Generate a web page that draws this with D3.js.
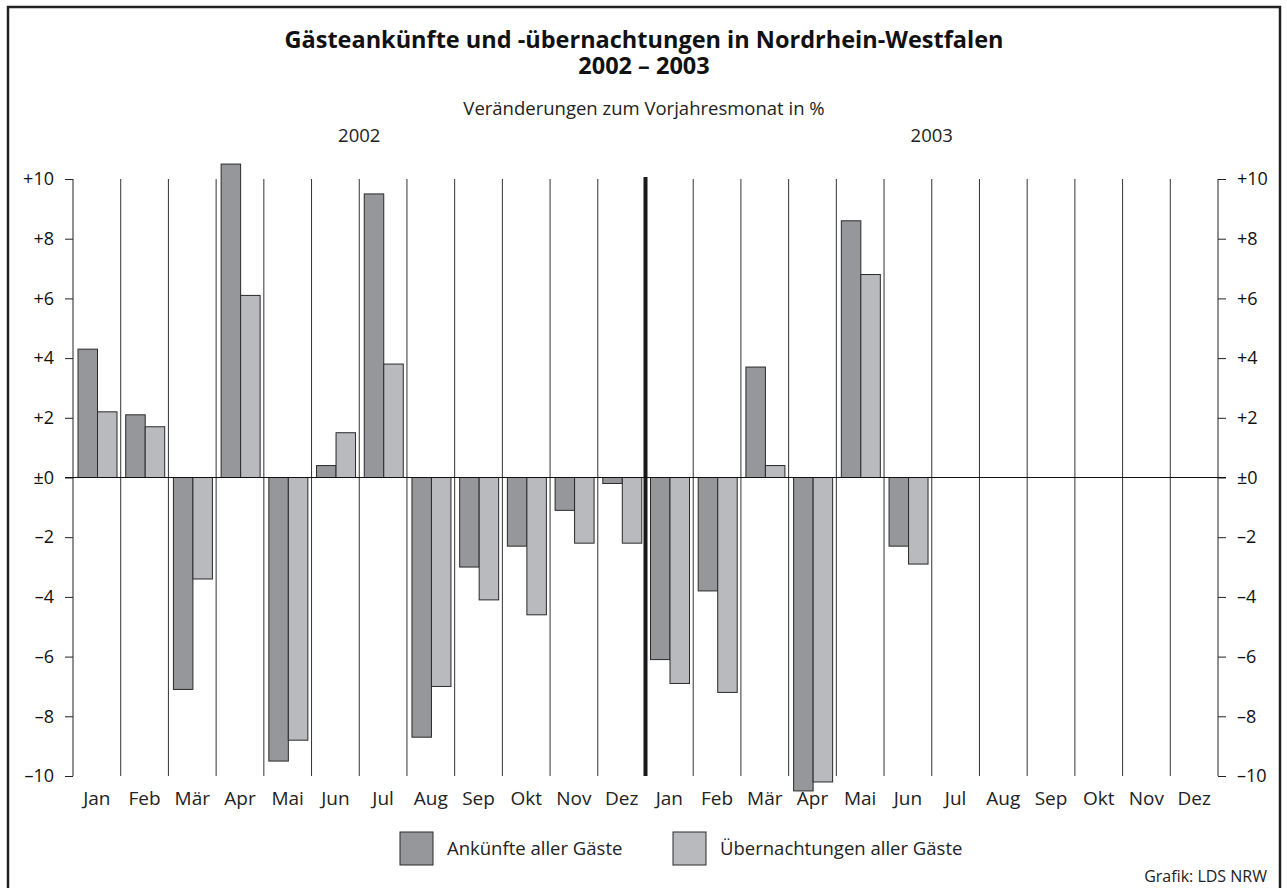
<!DOCTYPE html>
<html>
<head>
<meta charset="utf-8">
<script src="https://cdn.jsdelivr.net/npm/d3@7"></script>
<style>
  body { margin: 0; background: #fff; }
  svg { display: block; font-family: "Open Sans", "Noto Sans", sans-serif; }
</style>
</head>
<body>
<svg id="chart" width="1287" height="888"></svg>
<script>
const months = ['Jan', 'Feb', 'Mär', 'Apr', 'Mai', 'Jun', 'Jul', 'Aug', 'Sep', 'Okt', 'Nov', 'Dez'];
const years = ['2002', '2003'];
// Veränderungen zum Vorjahresmonat in %, Jan 2002 .. Dez 2003
const ankuenfte = [4.3, 2.1, -7.1, 10.5, -9.5, 0.4, 9.5, -8.7, -3.0, -2.3, -1.1, -0.2,
  -6.1, -3.8, 3.7, -10.5, 8.6, -2.3, null, null, null, null, null, null];
const uebernachtungen = [2.2, 1.7, -3.4, 6.1, -8.8, 1.5, 3.8, -7.0, -4.1, -4.6, -2.2, -2.2,
  -6.9, -7.2, 0.4, -10.2, 6.8, -2.9, null, null, null, null, null, null];
const yTicks = [10, 8, 6, 4, 2, 0, -2, -4, -6, -8, -10];
const series = [
  { key: 'a', name: 'Ankünfte aller Gäste', values: ankuenfte, color: '#96979b' },
  { key: 'u', name: 'Übernachtungen aller Gäste', values: uebernachtungen, color: '#b9babe' },
];

const svg = d3.select('#chart');
const plot = { left: 73, right: 1218, top: 179, bottom: 776 };

const slots = d3.range(months.length * years.length);
const x = d3.scaleBand().domain(slots).range([plot.left, plot.right]);
const x1 = d3.scaleBand().domain(series.map(s => s.key)).range([5, 44]);
const y = d3.scaleLinear().domain([-10, 10]).range([plot.bottom, plot.top]);

const tickFmt = v => v === 0 ? '±0' : (v > 0 ? '+' + v : '–' + Math.abs(v));

// outer frame
svg.append('rect')
  .attr('x', 8).attr('y', 7).attr('width', 1272).attr('height', 900)
  .attr('fill', 'none').attr('stroke', '#222').attr('stroke-width', 2.5);

// titles
svg.selectAll('.title').data(['Gästeankünfte und -übernachtungen in Nordrhein-Westfalen', '2002 – 2003'])
  .join('text')
  .attr('class', 'title')
  .attr('x', 644).attr('y', (d, i) => 48 + i * 26)
  .attr('text-anchor', 'middle').attr('font-weight', 'bold').attr('font-size', 23.5).attr('fill', '#111')
  .text(d => d);

svg.append('text')
  .attr('x', 644).attr('y', 115).attr('text-anchor', 'middle').attr('font-size', 18.5).attr('fill', '#222')
  .text('Veränderungen zum Vorjahresmonat in %');

svg.selectAll('.year').data(years).join('text')
  .attr('class', 'year')
  .attr('x', (d, i) => (x(i * 12) + x(i * 12 + 11) + x.bandwidth()) / 2)
  .attr('y', 142).attr('text-anchor', 'middle').attr('font-size', 18.5).attr('fill', '#222')
  .text(d => d);

// month separators
svg.append('g').selectAll('line').data(slots.slice(1)).join('line')
  .attr('x1', d => x(d)).attr('x2', d => x(d))
  .attr('y1', d => d === 12 ? plot.top - 2 : plot.top).attr('y2', plot.bottom)
  .attr('stroke', d => d === 12 ? '#1a1a1a' : '#333')
  .attr('stroke-width', d => d === 12 ? 4 : 1);

// bars
svg.append('g').selectAll('g').data(series).join('g')
  .attr('fill', s => s.color)
  .selectAll('rect')
  .data(s => s.values.map((v, i) => ({ i, v, key: s.key })).filter(d => d.v !== null))
  .join('rect')
  .attr('x', d => x(d.i) + x1(d.key))
  .attr('width', x1.bandwidth())
  .attr('y', d => y(Math.max(0, d.v)))
  .attr('height', d => Math.abs(y(d.v) - y(0)))
  .attr('stroke', '#2a2a2a').attr('stroke-width', 1);

// axes
const axisL = d3.axisLeft(y).tickValues(yTicks).tickFormat(tickFmt).tickSize(8).tickPadding(11);
const axisR = d3.axisRight(y).tickValues(yTicks).tickFormat(tickFmt).tickSize(8).tickPadding(11);
[[axisL, plot.left], [axisR, plot.right]].forEach(([ax, pos]) => {
  const g = svg.append('g').attr('transform', `translate(${pos},0)`).call(ax);
  g.attr('font-family', null);
  g.select('.domain').attr('stroke', '#222').attr('d', `M0,${plot.top}V${plot.bottom}`);
  g.selectAll('.tick line').attr('stroke', '#222');
  g.selectAll('.tick text').attr('fill', '#111').style('font-size', '18px');
});

// zero line
svg.append('line')
  .attr('x1', plot.left - 8).attr('x2', plot.right + 8)
  .attr('y1', y(0)).attr('y2', y(0))
  .attr('stroke', '#111').attr('stroke-width', 1);

// month labels
svg.append('g').selectAll('text').data(slots).join('text')
  .attr('x', d => x(d) + x.bandwidth() / 2)
  .attr('y', 805).attr('text-anchor', 'middle').attr('font-size', 19).attr('fill', '#222')
  .text(d => months[d % 12]);

// legend
const legendX = [400, 673];
const lg = svg.append('g').selectAll('g').data(series).join('g')
  .attr('transform', (d, i) => `translate(${legendX[i]},832)`);
lg.append('rect').attr('width', 33).attr('height', 33)
  .attr('fill', d => d.color).attr('stroke', '#2a2a2a').attr('stroke-width', 1);
lg.append('text').attr('x', 47).attr('y', 23).attr('font-size', 18.5).attr('fill', '#222')
  .text(d => d.name);

svg.append('text')
  .attr('x', 1267).attr('y', 882).attr('text-anchor', 'end').attr('font-size', 16).attr('fill', '#222')
  .text('Grafik: LDS NRW');
</script>
</body>
</html>
